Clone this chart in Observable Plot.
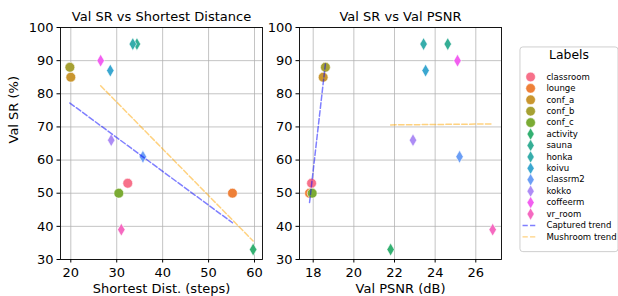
<!DOCTYPE html>
<html>
<head>
<meta charset="utf-8">
<script src="https://cdn.jsdelivr.net/npm/d3@7"></script>
<script src="https://cdn.jsdelivr.net/npm/@observablehq/plot@0.6"></script>
<style>
  html, body { margin: 0; padding: 0; background: white; }
  #wrap { position: relative; width: 618px; height: 296px; overflow: hidden; background: white; font-family: "DejaVu Sans", sans-serif; }
  #wrap > div { position: absolute; }
</style>
</head>
<body>
<div id="wrap">
  <div id="left" style="left:0;top:0"></div>
  <div id="right" style="left:260px;top:0"></div>
  <div id="legend" style="left:519px;top:46px"></div>
</div>
<script>
// ---- data ----
const labels = ["classroom", "lounge", "conf_a", "conf_b", "conf_c", "activity", "sauna", "honka", "koivu", "classrm2", "kokko", "coffeerm", "vr_room"];
const kinds = ["Captured", "Captured", "Captured", "Captured", "Captured", "Mushroom", "Mushroom", "Mushroom", "Mushroom", "Mushroom", "Mushroom", "Mushroom", "Mushroom"];
const shortestDist = [32.4, 55.2, 20.0, 19.8, 30.45, 59.7, 34.4, 33.5, 28.6, 35.7, 28.8, 26.5, 31.0];
const valPSNR = [17.92, 17.82, 18.49, 18.6, 17.95, 21.81, 24.62, 23.43, 23.53, 25.2, 22.91, 25.1, 26.83];
const valSR = [53, 50, 85, 88, 50, 33, 95, 95, 87, 61, 66, 90, 39];
const colors = ["#f7718a", "#ee8038", "#c9962f", "#a6a133", "#7bab34", "#33b071", "#35ae95", "#36adab", "#3aa7d0", "#6b9ef5", "#ad8cf5", "#f25ff0", "#f569c0"];
const trendNames = ["Captured trend", "Mushroom trend"];
const trendColors = ["blue", "orange"];
const yTicks = [30, 40, 50, 60, 70, 80, 90, 100];
const xTicksDist = [20, 30, 40, 50, 60];
const xTicksPSNR = [18, 20, 22, 24, 26];

const rows = labels.map((label, i) => ({
  label, kind: kinds[i], dist: shortestDist[i], psnr: valPSNR[i], sr: valSR[i]
}));

const FONT = "DejaVu Sans, sans-serif";
const colorScale = {domain: labels, range: colors};

function panel({xField, xDomain, xTicks, title, xLabel, yLabel, width, marginLeft, marginRight}) {
  const marks = [
    Plot.gridX(xTicks, {stroke: "#b0b0b0", strokeOpacity: 0.75, strokeWidth: 1}),
    Plot.gridY(yTicks, {stroke: "#b0b0b0", strokeOpacity: 0.75, strokeWidth: 1}),
    Plot.dot(rows.filter(d => d.kind === "Captured"), {x: xField, y: "sr", fill: "label", symbol: "circle", r: 4.9, stroke: "white", strokeWidth: 0.6}),
    Plot.dot(rows.filter(d => d.kind === "Mushroom"), {x: xField, y: "sr", fill: "label", symbol: "diamond", r: 3.9, stroke: "white", strokeWidth: 0.6}),
    Plot.linearRegressionY(rows, {filter: d => d.kind === "Captured", x: xField, y: "sr", ci: 0, stroke: trendColors[0], strokeOpacity: 0.5, strokeWidth: 1.5, strokeDasharray: "5.5,2.4"}),
    Plot.linearRegressionY(rows, {filter: d => d.kind === "Mushroom", x: xField, y: "sr", ci: 0, stroke: trendColors[1], strokeOpacity: 0.5, strokeWidth: 1.5, strokeDasharray: "5.5,2.4"}),
    Plot.frame({stroke: "black", strokeWidth: 0.9}),
    Plot.axisX(xTicks, {tickSize: 3.5, tickPadding: 4.5, fontSize: 13, label: null}),
    Plot.axisY(yTicks, {tickSize: 3.5, tickPadding: 3.5, fontSize: 13, label: null}),
    Plot.text([title], {frameAnchor: "top", dy: -10.5, lineAnchor: "middle", fontSize: 13, fill: "black"}),
    Plot.text([xLabel], {frameAnchor: "bottom", dy: 29.5, lineAnchor: "middle", fontSize: 13, fill: "black"})
  ];
  if (yLabel) {
    marks.push(Plot.text([yLabel], {frameAnchor: "left", dx: -46.5, rotate: -90, lineAnchor: "middle", fontSize: 13, fill: "black"}));
  }
  return Plot.plot({
    width, height: 296,
    marginLeft, marginRight, marginTop: 27, marginBottom: 37,
    style: {fontFamily: FONT, fontSize: "13px", background: "transparent", overflow: "visible", color: "black"},
    x: {domain: xDomain},
    y: {domain: [30, 100]},
    color: colorScale,
    marks
  });
}

document.getElementById("left").appendChild(panel({
  xField: "dist", xDomain: [17.757, 61.74], xTicks: xTicksDist,
  title: "Val SR vs Shortest Distance", xLabel: "Shortest Dist. (steps)", yLabel: "Val SR (%)",
  width: 270, marginLeft: 60, marginRight: 8
}));

document.getElementById("right").appendChild(panel({
  xField: "psnr", xDomain: [17.326, 27.264], xTicks: xTicksPSNR,
  title: "Val SR vs Val PSNR", xLabel: "Val PSNR (dB)", yLabel: null,
  width: 250, marginLeft: 39, marginRight: 9
}));

// ---- legend ----
const entries = labels.concat(trendNames);
const legendRows = labels.map((label, i) => ({label, kind: kinds[i]}));
const trendRows = trendNames.map((name, i) => ({name, color: trendColors[i]}));
const legend = Plot.plot({
  width: 104, height: 216,
  margin: 0,
  style: {fontFamily: FONT, background: "transparent", overflow: "visible", color: "black"},
  x: {domain: [0, 1], axis: null},
  y: {type: "point", domain: entries, range: [24, 207.3], axis: null},
  color: colorScale,
  marks: [
    Plot.frame({stroke: "#cccccc", strokeWidth: 1, fill: "white", rx: 3, inset: 0.5}),
    Plot.text(["Labels"], {frameAnchor: "top", dy: 9, lineAnchor: "middle", fontSize: 13, fill: "black"}),
    Plot.dot(legendRows.filter(d => d.kind === "Captured"), {y: "label", frameAnchor: "left", dx: 11.7, fill: "label", symbol: "circle", r: 5, stroke: "white", strokeWidth: 0.5}),
    Plot.dot(legendRows.filter(d => d.kind === "Mushroom"), {y: "label", frameAnchor: "left", dx: 11.7, fill: "label", symbol: "diamond", r: 3.9, stroke: "white", strokeWidth: 0.5}),
    Plot.tickY(trendRows, {y: "name", stroke: d => d.color, strokeOpacity: 0.5, strokeWidth: 1.5, strokeDasharray: "5.5,2.4", insetLeft: 3.7, insetRight: 86.3}),
    Plot.text(entries, {y: d => d, frameAnchor: "left", dx: 28.3, textAnchor: "start", lineAnchor: "middle", fontSize: 9, fill: "black"})
  ]
});
document.getElementById("legend").appendChild(legend);
</script>
</body>
</html>
